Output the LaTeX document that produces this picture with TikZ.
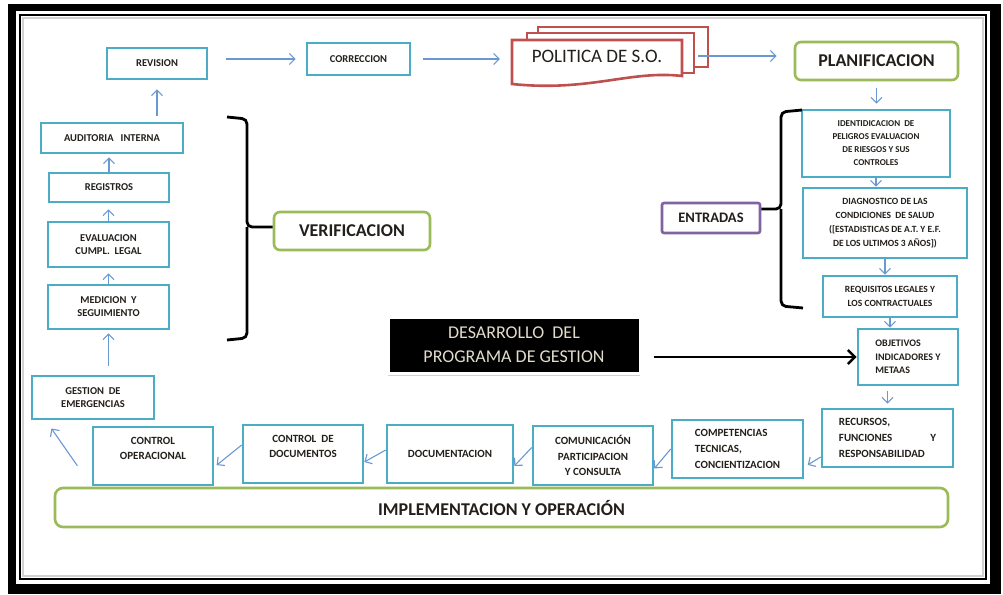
\documentclass[tikz,border=0pt]{standalone}
\usepackage{fontspec}
\setmainfont{Carlito}
\usetikzlibrary{arrows.meta,calc,shadows}
\definecolor{FrameBlue}{HTML}{4BACC6}
\definecolor{LinkBlue}{HTML}{6A98D2}
\definecolor{PhaseGreen}{HTML}{9BBB59}
\definecolor{InputPurple}{HTML}{8064A2}
\definecolor{PolicyRed}{HTML}{C0504D}
\definecolor{LabelDark}{HTML}{231F1B}
\definecolor{DevText}{HTML}{E2DCCB}

\begin{document}
\begin{tikzpicture}[x=1pt,y=-1pt,>={Straight Barb[length=5.5pt,width=11pt]},
  stagebox/.style={draw=FrameBlue,line width=2.6pt,fill=white,text=LabelDark,align=center,inner sep=2pt,font=\bfseries\fontsize{10.5}{13}\selectfont},
  phase/.style={draw=PhaseGreen,line width=2.6pt,rounded corners=6pt,fill=white,text=LabelDark,font=\bfseries\fontsize{18}{20}\selectfont},
  flow/.style={->,LinkBlue,line width=1.1pt},
  brace/.style={line width=2.8pt,rounded corners=5pt}]
  \useasboundingbox (0,0) rectangle (1003,594);
  % marco
  \fill[black] (8,4) rectangle (1001,594);
  \fill[white] (16,11) rectangle (990,584);
  \draw[line width=1.6pt] (20,15) rectangle (986,579);
  \draw[gray!35,line width=1.5pt] (23,18) rectangle (983,576);

  % fila superior
  \node[stagebox,minimum width=100pt,minimum height=31pt] (rev) at (157,63.5) {REVISION};
  \node[stagebox,minimum width=103pt,minimum height=32pt] (corr) at (358.5,59) {CORRECCION};
  \draw[PolicyRed,line width=2.6pt,fill=white] (538,27) rectangle (708,67);
  \draw[PolicyRed,line width=2.6pt,fill=white] (527,33) rectangle (694,73);
  \draw[PolicyRed,line width=2.6pt,fill=white] (512,40) -- (682,40) -- (682,76)
    .. controls (630,70) and (590,92) .. (512,84) -- cycle;
  \node[font=\fontsize{19}{21}\selectfont,text=LabelDark,minimum width=170pt] (pol) at (597,56) {POLITICA DE S.O.};
  \node[phase,minimum width=163pt,minimum height=38pt] (plan) at (876.5,61) {PLANIFICACION};

  % planificacion
  \node[stagebox,font=\bfseries\fontsize{9}{13}\selectfont,minimum width=148pt,minimum height=67pt] (ident) at (876,143.5)
    {IDENTIDICACION\ \ DE\\PELIGROS EVALUACION\\DE RIESGOS Y SUS\\CONTROLES};
  \node[stagebox,font=\bfseries\fontsize{9.5}{14}\selectfont,minimum width=164pt,minimum height=70pt] (diag) at (885,223)
    {DIAGNOSTICO DE LAS\\CONDICIONES\ \ DE SALUD\\([ESTADISTICAS DE A.T. Y E.F.\\DE LOS ULTIMOS 3 AÑOS])};
  \node[stagebox,font=\bfseries\fontsize{9.5}{14}\selectfont,minimum width=134pt,minimum height=41pt] (req) at (890,296.5)
    {REQUISITOS LEGALES Y\\LOS CONTRACTUALES};
  \node[stagebox,align=left,font=\bfseries\fontsize{10}{13.5}\selectfont,minimum width=100pt,minimum height=56pt] (obj) at (908,357)
    {OBJETIVOS\\INDICADORES Y\\METAAS};
  \node[InputPurple,draw,line width=2.6pt,rounded corners=2pt,fill=white,text=LabelDark,font=\bfseries\fontsize{14.5}{16}\selectfont,
    minimum width=98pt,minimum height=30pt] (entr) at (711,218) {ENTRADAS};
  \draw[brace] (802,110) -- (781,112) -- (781,209) -- ([yshift=9pt]entr.east);
  \draw[brace] (781,209) -- (781,306) -- (803,308);

  % implementacion
  \node[stagebox,align=left,font=\bfseries\fontsize{11}{16}\selectfont,minimum width=131pt,minimum height=58pt] (rec) at (887.5,438)
    {RECURSOS,\\FUNCIONES\hspace{38pt}Y\\RESPONSABILIDAD};
  \node[stagebox,align=left,font=\bfseries\fontsize{11}{16}\selectfont,minimum width=131pt,minimum height=58pt] (comp) at (737.5,449)
    {COMPETENCIAS\\TECNICAS,\\CONCIENTIZACION};
  \node[stagebox,font=\bfseries\fontsize{11}{15.5}\selectfont,minimum width=120pt,minimum height=59pt] (comu) at (593,455.5)
    {COMUNICACIÓN\\PARTICIPACION\\Y CONSULTA};
  \node[stagebox,font=\bfseries\fontsize{11}{15}\selectfont,minimum width=126pt,minimum height=58pt] (docu) at (450,454) {DOCUMENTACION};
  \node[stagebox,font=\bfseries\fontsize{11}{15}\selectfont,minimum width=120pt,minimum height=58pt] (ctrldoc) at (303,454)
    {CONTROL\ \ DE\\DOCUMENTOS\\\mbox{}};
  \node[stagebox,font=\bfseries\fontsize{11}{15}\selectfont,minimum width=120pt,minimum height=58pt] (ctrlop) at (153,456)
    {CONTROL\\OPERACIONAL\\\mbox{}};
  \node[phase,minimum width=893pt,minimum height=39pt,rounded corners=8pt] (impl) at (501.5,507.5) {IMPLEMENTACION Y OPERACIÓN};

  % verificacion
  \node[stagebox,minimum width=122pt,minimum height=43pt] (emerg) at (93,397.5) {GESTION\ \ DE\\EMERGENCIAS};
  \node[stagebox,minimum width=121pt,minimum height=44pt] (medic) at (108.5,307) {MEDICION\ \ Y\\SEGUIMIENTO};
  \node[stagebox,minimum width=121pt,minimum height=45pt] (evalu) at (108.5,244.5) {EVALUACION\\CUMPL.\ \ LEGAL};
  \node[stagebox,minimum width=120pt,minimum height=29pt] (regis) at (109,187.5) {REGISTROS};
  \node[stagebox,minimum width=142pt,minimum height=30pt] (audit) at (112,138) {AUDITORIA\ \ \ INTERNA};
  \node[phase,minimum width=156pt,minimum height=38pt] (verif) at (352,231) {VERIFICACION};
  \draw[brace] (227,117) -- (247,119) -- (247,227) -- ([yshift=4pt]verif.west);
  \draw[brace] (247,227) -- (247,338) -- (227,340);

  % programa de gestion
  \node[fill=black,draw=white,line width=3pt,text=DevText,align=center,font=\fontsize{18}{24}\selectfont,
    minimum width=252pt,minimum height=56pt,drop shadow={opacity=.35,shadow xshift=0pt,shadow yshift=-3pt}] (desa) at (514,345)
    {DESARROLLO\ \ DEL\\PROGRAMA DE GESTION};
  \draw[-{Straight Barb[length=7pt,width=14pt]},line width=2.6pt,shorten <=12pt] (desa.east |- obj.west) -- (obj.west);

  % flechas
  \draw[flow,shorten <=18pt,shorten >=10pt] (rev.east |- corr.west) -- (corr.west);
  \draw[flow,shorten <=12pt,shorten >=12pt] (corr.east) -- (corr.east -| pol.west);
  \draw[flow,shorten <=16pt,shorten >=17pt] (pol.east) -- (pol.east -| plan.west);
  \draw[flow,shorten <=7pt,shorten >=5pt] (plan.south) -- (plan.south |- ident.north);
  \draw[flow] (ident.south) -- (ident.south |- diag.north);
  \draw[flow] (diag.south) -- (diag.south |- req.north);
  \draw[flow] (req.south) -- (req.south |- obj.north);
  \draw[flow,shorten <=5pt,shorten >=4pt] (obj.south -| rec.north) -- (rec.north);
  \draw[flow,shorten >=4pt] ([yshift=-19pt]rec.west) -- ([yshift=-18pt]comp.east);
  \draw[flow] (comp.west) -- ([yshift=-13pt]comu.east);
  \draw[flow] ([yshift=8pt]comu.west) -- ([yshift=-12pt]docu.east);
  \draw[flow] ([yshift=4pt]docu.west) -- ([yshift=-8pt]ctrldoc.east);
  \draw[flow,shorten >=3pt] ([yshift=9pt]ctrldoc.west) -- ([yshift=-11pt]ctrlop.east);
  \draw[flow,shorten <=25pt,shorten >=10pt] (ctrlop.south west) -- ([xshift=15pt]emerg.south west);
  \draw[flow,shorten <=9pt,shorten >=3pt] (medic.south |- emerg.north) -- (medic.south);
  \draw[flow,shorten >=5pt] (medic.north) -- (medic.north |- evalu.south);
  \draw[flow,shorten >=6pt] (evalu.north) -- (evalu.north |- regis.south);
  \draw[flow,shorten >=3pt] (regis.north) -- (regis.north |- audit.south);
  \draw[flow,shorten <=6pt,shorten >=9pt] (audit.north -| rev.south) -- (rev.south);
\end{tikzpicture}
\end{document}
